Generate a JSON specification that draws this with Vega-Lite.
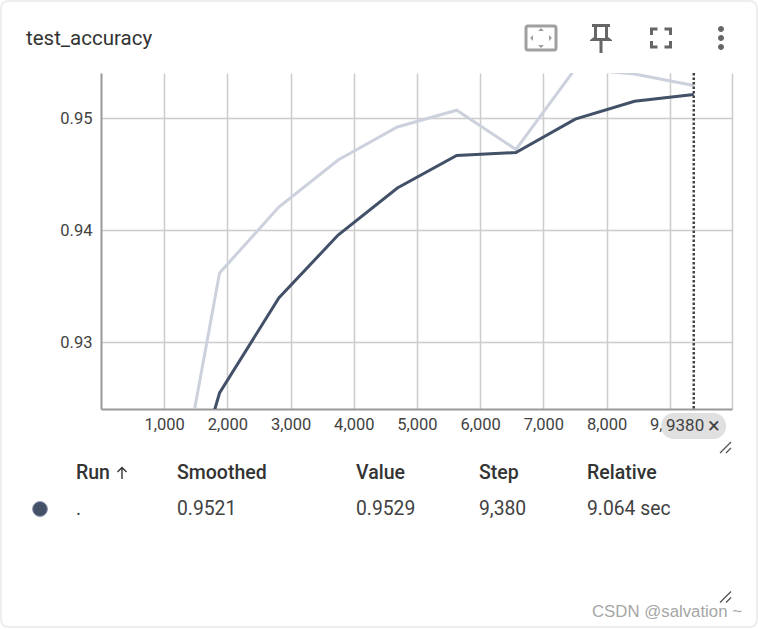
{"$schema":"https://vega.github.io/schema/vega-lite/v6.json","width":631,"height":336,"autosize":{"type":"none"},"padding":{"left":101,"top":73,"right":26,"bottom":220},"background":"#ffffff","view":{"stroke":null},"config":{"font":"Roboto"},"resolve":{"scale":{"x":"independent","y":"independent"}},"layer":[{"encoding":{"x":{"field":"step","type":"quantitative","scale":{"domain":[0,9985],"nice":false,"zero":false},"axis":{"title":null,"values":[1000,2000,3000,4000,5000,6000,7000,8000,9000,9985],"labelExpr":"datum.value>9900?'':format(datum.value,',')","grid":true,"gridColor":"#cccccc","gridWidth":1.5,"domainColor":"#999999","domainWidth":2,"ticks":false,"labelFont":"Roboto","labelFontSize":16.5,"labelColor":"#424242","labelPadding":7,"labelOverlap":false,"labelFlush":false,"labelBound":false}}},"layer":[{"data":{"values":[{"step":938,"value":0.9073,"series":"raw"},{"step":1876,"value":0.93616,"series":"raw"},{"step":2814,"value":0.94205,"series":"raw"},{"step":3752,"value":0.94625,"series":"raw"},{"step":4690,"value":0.9492,"series":"raw"},{"step":5628,"value":0.9507,"series":"raw"},{"step":6566,"value":0.9472,"series":"raw"},{"step":7504,"value":0.9544,"series":"raw"},{"step":8442,"value":0.95393,"series":"raw"},{"step":9380,"value":0.9529,"series":"raw"},{"step":938,"value":0.9073,"series":"smoothed"},{"step":1876,"value":0.92545,"series":"smoothed"},{"step":2814,"value":0.93393,"series":"smoothed"},{"step":3752,"value":0.93955,"series":"smoothed"},{"step":4690,"value":0.94375,"series":"smoothed"},{"step":5628,"value":0.94665,"series":"smoothed"},{"step":6566,"value":0.94692,"series":"smoothed"},{"step":7504,"value":0.9499,"series":"smoothed"},{"step":8442,"value":0.9515,"series":"smoothed"},{"step":9380,"value":0.9521,"series":"smoothed"}]},"mark":{"type":"line","clip":true,"strokeWidth":3},"encoding":{"y":{"field":"value","type":"quantitative","scale":{"domain":[0.92402,0.95402],"nice":false,"zero":false},"axis":{"title":null,"values":[0.93,0.94,0.95],"format":".2f","grid":true,"gridColor":"#cccccc","gridWidth":1.5,"domainColor":"#999999","domainWidth":2,"ticks":false,"labelFont":"Roboto","labelFontSize":16.5,"labelColor":"#424242","labelPadding":9}},"color":{"field":"series","type":"nominal","legend":null,"scale":{"domain":["raw","smoothed"],"range":["#ccd1dd","#425068"]}}}},{"data":{"values":[{"step":9380}]},"mark":{"type":"rule","color":"#444444","strokeWidth":2.5,"strokeDash":[2.5,2]},"encoding":{}}]},{"encoding":{"x":{"field":"col","type":"quantitative","axis":null,"scale":{"domain":[0,1,2,3,4,5,6,7,8,9,10,11,12,13,14,15,16,17],"range":[278,-61,-25,21,76,255,378,486,592.6,565,607,-75,440,500,560,620,625,491],"nice":false,"zero":false}},"y":{"field":"row","type":"quantitative","axis":null,"scale":{"domain":[0,1,2,3,4,5,6,7],"range":[-35,400,436,353,375,524.5,539,241],"nice":false,"zero":false}}},"layer":[{"data":{"values":[{"col":0,"row":7,"glyph":"card"}]},"mark":{"type":"point","filled":false,"size":4,"stroke":"#eeeeee","strokeWidth":2,"opacity":1,"clip":false,"shape":"M-370,-313H370Q378,-313 378,-305V305Q378,313 370,313H-370Q-378,313 -378,305V-305Q-378,-313 -370,-313Z"}},{"data":{"values":[{"col":8,"row":3,"glyph":"cursor chip"}]},"mark":{"type":"point","filled":true,"size":4,"fill":"#e0e0e0","opacity":1,"shape":"M-20,-13H20C27,-13 32.5,-7 32.5,0C32.5,7 27,13 20,13H-20C-27,13 -32.5,7 -32.5,0C-32.5,-7 -27,-13 -20,-13Z"}},{"data":{"values":[{"col":12,"row":0,"glyph":"fit frame"}]},"mark":{"type":"point","filled":false,"size":4,"stroke":"#a0a0a0","strokeWidth":3,"opacity":1,"shape":"M-13,-12H13Q15,-12 15,-10V10Q15,12 13,12H-13Q-15,12 -15,10V-10Q-15,-12 -13,-12Z"}},{"data":{"values":[{"col":12,"row":0,"glyph":"fit arrows"}]},"mark":{"type":"point","filled":true,"size":4,"fill":"#a0a0a0","opacity":1,"shape":"M0,-10L3,-7H-3ZM0,10L3,7H-3ZM-11,0L-8,-3V3ZM11,0L8,-3V3Z"}},{"data":{"values":[{"col":13,"row":0,"glyph":"pin"}]},"mark":{"type":"point","filled":true,"size":4,"fill":"#666666","opacity":1,"shape":"M-9,-14H9V-11H7V-1L11,2V3H1.5V15H-1.5V3H-11V2L-7,-1V-11H-9ZM-4,-11V0H4V-11Z"}},{"data":{"values":[{"col":14,"row":0,"glyph":"fullscreen"}]},"mark":{"type":"point","filled":false,"size":4,"stroke":"#666666","strokeWidth":3,"opacity":1,"shape":"M-9.5,-3V-9H-3.5M3.5,-9H9.5V-3M9.5,3V9H3.5M-3.5,9H-9.5V3"}},{"data":{"values":[{"col":15,"row":0,"glyph":"dot"}]},"mark":{"type":"point","filled":true,"size":4,"fill":"#666666","opacity":1,"shape":"M0,-12A3,3 0 1 1 0,-6A3,3 0 1 1 0,-12ZM0,-3A3,3 0 1 1 0,3A3,3 0 1 1 0,-3ZM0,6A3,3 0 1 1 0,12A3,3 0 1 1 0,6Z"}},{"data":{"values":[{"col":16,"row":4,"glyph":"handle"},{"col":16,"row":5,"glyph":"handle"}]},"mark":{"type":"point","filled":false,"size":4,"stroke":"#555555","strokeWidth":1.3,"opacity":1,"shape":"M-6,5L5,-6M0,5L5,0"}},{"data":{"values":[{"col":3,"row":1,"glyph":"sort arrow"}]},"mark":{"type":"point","filled":false,"size":4,"stroke":"#333333","strokeWidth":1.4,"opacity":1,"shape":"M0,6V-5.5M-4.5,-1L0,-5.5L4.5,-1"}},{"data":{"values":[{"col":1,"row":2,"glyph":"run colour"}]},"mark":{"type":"point","filled":true,"size":220,"shape":"circle","fill":"#425068","stroke":"#8a93ad","strokeWidth":1,"opacity":1}},{"data":{"values":[{"col":11,"row":0,"label":"test_accuracy"}]},"mark":{"type":"text","align":"left","baseline":"middle","dy":1,"fontSize":20.5,"font":"Roboto","color":"#333333"},"encoding":{"text":{"field":"label"}}},{"data":{"values":[{"col":2,"row":1,"label":"Run"},{"col":4,"row":1,"label":"Smoothed"},{"col":5,"row":1,"label":"Value"},{"col":6,"row":1,"label":"Step"},{"col":7,"row":1,"label":"Relative"}]},"mark":{"type":"text","align":"left","baseline":"middle","fontSize":19.5,"fontWeight":500,"font":"Roboto","color":"#333333"},"encoding":{"text":{"field":"label"}}},{"data":{"values":[{"col":2,"row":2,"label":"."},{"col":4,"row":2,"label":"0.9521"},{"col":5,"row":2,"label":"0.9529"},{"col":6,"row":2,"label":"9,380"},{"col":7,"row":2,"label":"9.064 sec"}]},"mark":{"type":"text","align":"left","baseline":"middle","fontSize":19.3,"font":"Roboto","color":"#424242"},"encoding":{"text":{"field":"label"}}},{"data":{"values":[{"col":9,"row":3,"label":"9380"}]},"mark":{"type":"text","align":"left","baseline":"middle","fontSize":17,"font":"Roboto","color":"#424242"},"encoding":{"text":{"field":"label"}}},{"data":{"values":[{"col":10,"row":3,"label":"×"}]},"mark":{"type":"text","align":"left","baseline":"middle","fontSize":22,"font":"Roboto","color":"#424242"},"encoding":{"text":{"field":"label"}}},{"data":{"values":[{"col":17,"row":6,"label":"CSDN @salvation ~"}]},"mark":{"type":"text","align":"left","baseline":"middle","fontSize":16.8,"font":"Liberation Sans","color":"#a6a6a6"},"encoding":{"text":{"field":"label"}}}]}]}
